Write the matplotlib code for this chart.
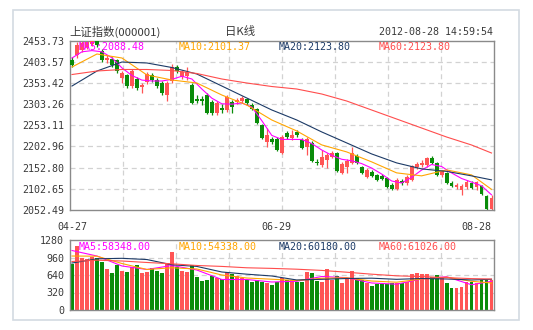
import matplotlib.pyplot as plt
import matplotlib.transforms as mtransforms
import numpy as np
from matplotlib.patches import Rectangle

# ----------------------------------------------------------
# Data (SSE index 000001, daily candles 2012-04-27 .. 2012-08-28)
# ----------------------------------------------------------

opens = [2407.6, 2419.4, 2431.2, 2438.4, 2445.5, 2452.6, 2428.9, 2407.6, 2409.9, 2407.6,
         2365.0, 2372.1, 2346.0, 2362.6, 2343.7, 2355.5, 2372.1, 2360.2, 2353.1, 2324.7,
         2357.9, 2391.0, 2367.3, 2369.7, 2348.4, 2315.3, 2315.3, 2324.7, 2308.2, 2282.1,
         2294.0, 2289.2, 2308.2, 2308.2, 2310.5, 2315.3, 2301.1, 2291.6, 2253.7, 2213.5,
         2220.6, 2220.6, 2187.4, 2234.8, 2223.0, 2237.2, 2218.2, 2201.7, 2211.1, 2166.1,
         2159.0, 2170.9, 2178.0, 2187.4, 2140.1, 2154.3, 2163.8, 2180.3, 2154.3, 2130.6,
         2142.5, 2135.4, 2133.0, 2128.3, 2111.7, 2102.2, 2121.2, 2116.4, 2123.5, 2154.3,
         2159.0, 2159.0, 2175.6, 2163.8, 2135.4, 2140.1, 2116.4, 2107.0, 2099.9, 2107.0,
         2116.4, 2107.0, 2109.3, 2085.7, 2054.9]

closes = [2395.7, 2443.1, 2447.8, 2450.2, 2452.6, 2443.1, 2407.6, 2412.3, 2395.7, 2381.5,
          2376.8, 2346.0, 2381.5, 2341.3, 2348.4, 2374.4, 2360.2, 2346.0, 2329.5, 2353.1,
          2391.0, 2381.5, 2379.2, 2379.2, 2305.8, 2310.5, 2310.5, 2282.1, 2282.1, 2305.8,
          2289.2, 2320.0, 2296.3, 2312.9, 2317.6, 2305.8, 2291.6, 2258.5, 2223.0, 2230.1,
          2213.5, 2194.5, 2225.3, 2225.3, 2230.1, 2230.1, 2199.3, 2220.6, 2168.5, 2163.8,
          2178.0, 2182.7, 2187.4, 2144.8, 2161.4, 2168.5, 2187.4, 2163.8, 2140.1, 2147.2,
          2133.0, 2123.5, 2125.9, 2107.0, 2102.2, 2123.5, 2116.4, 2130.6, 2156.7, 2161.4,
          2163.8, 2175.6, 2163.8, 2135.4, 2144.8, 2116.4, 2109.3, 2111.7, 2109.3, 2118.8,
          2104.6, 2118.8, 2090.4, 2054.9, 2080.9]

highs = [2414.7, 2450.2, 2452.6, 2452.6, 2453.7, 2453.73, 2433.6, 2419.4, 2414.7, 2409.9,
         2381.5, 2374.4, 2386.3, 2367.3, 2353.1, 2379.2, 2376.8, 2365.0, 2357.9, 2357.9,
         2398.1, 2395.7, 2383.9, 2391.0, 2353.1, 2324.7, 2322.4, 2329.5, 2312.9, 2310.5,
         2303.4, 2324.7, 2312.9, 2317.6, 2322.4, 2317.6, 2305.8, 2294.0, 2256.1, 2246.6,
         2225.3, 2225.3, 2230.1, 2239.5, 2241.9, 2241.9, 2223.0, 2225.3, 2215.9, 2173.2,
         2194.5, 2187.4, 2192.2, 2189.8, 2166.1, 2173.2, 2201.7, 2185.1, 2156.7, 2151.9,
         2147.2, 2137.7, 2137.7, 2130.6, 2116.4, 2128.3, 2125.9, 2135.4, 2159.0, 2166.1,
         2170.9, 2178.0, 2180.3, 2166.1, 2147.2, 2142.5, 2121.2, 2116.4, 2114.1, 2123.5,
         2121.2, 2121.2, 2111.7, 2088.0, 2088.0]

lows = [2391.0, 2412.3, 2426.5, 2433.6, 2440.7, 2438.4, 2402.8, 2400.5, 2391.0, 2376.8,
        2353.1, 2341.3, 2341.3, 2336.6, 2329.5, 2350.8, 2355.5, 2341.3, 2324.7, 2310.5,
        2353.1, 2376.8, 2362.6, 2360.2, 2303.4, 2305.8, 2301.1, 2279.8, 2277.4, 2277.4,
        2282.1, 2284.5, 2282.1, 2303.4, 2305.8, 2301.1, 2289.2, 2256.1, 2220.6, 2201.7,
        2208.8, 2192.2, 2185.1, 2220.6, 2218.2, 2225.3, 2196.9, 2182.7, 2166.1, 2159.0,
        2154.3, 2151.9, 2175.6, 2142.5, 2137.7, 2140.1, 2161.4, 2161.4, 2137.7, 2128.3,
        2130.6, 2121.2, 2123.5, 2104.6, 2099.9, 2099.9, 2111.7, 2111.7, 2121.2, 2149.6,
        2154.3, 2154.3, 2161.4, 2133.0, 2130.6, 2114.1, 2107.0, 2102.2, 2088.0, 2102.2,
        2102.2, 2099.9, 2088.0, 2052.5, 2052.5]

volumes = [836, 1170, 957, 933, 975, 945, 884, 750, 671, 823,
           713, 701, 793, 823, 671, 689, 762, 719, 683, 854,
           1067, 793, 713, 689, 823, 610, 530, 549, 622, 591,
           567, 701, 653, 628, 579, 549, 506, 549, 518, 488,
           457, 506, 579, 549, 549, 506, 518, 701, 671, 530,
           518, 750, 549, 628, 500, 579, 713, 579, 549, 500,
           439, 476, 470, 470, 500, 500, 488, 506, 658, 671,
           653, 653, 610, 640, 610, 488, 408, 408, 427, 518,
           518, 488, 549, 561, 549]

date_ticks = [0, 42, 84]
date_labels = ["04-27", "06-29", "08-28"]

price_ticks = [2052.49, 2102.65, 2152.80, 2202.96, 2253.11,
               2303.26, 2353.42, 2403.57, 2453.73]
volume_ticks = [0, 320, 640, 960, 1280]

ma_idx = [0, 5, 10, 15, 20, 25, 30, 35, 40, 45, 50, 55, 60, 65, 70, 75, 80, 84]
ma5_idx = list(range(0, 85, 2))

ma5_price = [2412.3, 2427.0, 2429.8, 2427.0, 2412.8, 2388.9, 2370.9, 2360.0, 2357.9,
             2357.9, 2361.7, 2369.2, 2362.6, 2338.9, 2317.2, 2303.9, 2303.0, 2305.8,
             2296.3, 2264.1, 2229.1, 2219.6, 2219.6, 2219.4, 2209.9, 2194.6, 2182.0,
             2172.6, 2169.0, 2162.4, 2151.8, 2137.7, 2121.2, 2116.4, 2129.7, 2147.0,
             2160.2, 2155.5, 2140.3, 2127.1, 2118.6, 2109.8, 2088.48]
ma10_price = [2391.0, 2421.8, 2412.3, 2372.1, 2360.2, 2353.1, 2324.7, 2301.1, 2265.6,
              2239.6, 2206.6, 2190.0, 2166.4, 2140.4, 2133.3, 2147.4, 2135.6, 2101.37]
ma20_price = [2346.0, 2381.5, 2402.8, 2400.5, 2389.8, 2374.4, 2346.0, 2317.6, 2289.3,
              2265.6, 2237.3, 2211.3, 2185.2, 2164.0, 2149.8, 2143.9, 2133.3, 2123.80]
ma60_price = [2373.2, 2381.5, 2385.1, 2385.1, 2382.7, 2375.6, 2362.6, 2353.1, 2344.8,
              2338.9, 2327.1, 2310.5, 2289.2, 2267.9, 2246.6, 2225.3, 2206.4, 2187.4]

ma5_vol = [1088, 987, 805, 741, 814, 731, 558, 558, 512, 525, 613, 591, 494, 472, 567, 609, 461, 525]
ma10_vol = [987, 984, 850, 741, 772, 750, 640, 585, 563, 539, 580, 589, 530, 508, 567, 600, 525, 494]
ma20_vol = [859, 936, 945, 923, 827, 797, 695, 655, 622, 549, 561, 576, 582, 561, 576, 567, 549, 561]
ma60_vol = [887, 911, 896, 869, 845, 814, 797, 772, 761, 746, 724, 691, 655, 625, 611, 591, 574, 567]

price_labels = ["MA5:2088.48", "MA10:2101.37", "MA20:2123.80", "MA60:2123.80"]
volume_labels = ["MA5:58348.00", "MA10:54338.00", "MA20:60180.00", "MA60:61026.00"]

# ----------------------------------------------------------
# Style
# ----------------------------------------------------------

RED = "#ff5555"
GREEN = "#0a8c0a"
MA_COLORS = ["#ff00ff", "#ffa500", "#1c3a66", "#ff4d4d"]
GRID = "#d2d2d2"
SPINE = "#8a8a8a"
TEXT = "#3a3a3a"
MONO = "DejaVu Sans Mono"
CJK = ["Noto Sans CJK SC", "DejaVu Sans"]

plt.rcParams["font.family"] = [MONO, "Noto Sans CJK SC"]

W, H = 533, 330

fig = plt.figure(figsize=(W / 100, H / 100), dpi=100)

fig.patches.append(
    Rectangle(
        (13 / W, 1 - 320 / H),
        (519 - 13) / W,
        (320 - 10) / H,
        transform=fig.transFigure,
        fill=False,
        edgecolor="#d3dae2",
        linewidth=1.2
    )
)

ax = fig.add_axes([69.5 / W, 1 - 210 / H, 424.5 / W, 169.5 / H])
axv = fig.add_axes([69.5 / W, 1 - 310 / H, 424.5 / W, 70 / H])

x = np.arange(len(closes))
o = np.array(opens)
c = np.array(closes)
colors = [RED if cc >= oo else GREEN for oo, cc in zip(o, c)]

x0, x1 = -0.5, len(closes) - 0.5


def frame(axis):

    for side in axis.spines.values():
        side.set_color(SPINE)
        side.set_linewidth(1)

    for k in range(1, 8):
        axis.axvline(
            x0 + (x1 - x0) * k / 8,
            color=GRID,
            lw=0.9,
            ls=(0, (4, 3)),
            zorder=0
        )

    axis.set_xlim(x0, x1)

    axis.tick_params(
        length=0,
        labelsize=7.2,
        labelcolor=TEXT
    )


# ----------------------------------------------------------
# Candles
# ----------------------------------------------------------

frame(ax)

for y in price_ticks[1:-1]:
    ax.axhline(y, color=GRID, lw=0.9, ls=(0, (4, 3)), zorder=0)

ax.vlines(x, lows, highs, colors=colors, lw=0.9, zorder=2)

ax.bar(
    x,
    np.maximum(np.abs(c - o), 1.5),
    bottom=np.minimum(o, c),
    width=0.78,
    color=colors,
    linewidth=0,
    zorder=3
)

for vals, idx, col in zip(
    [ma5_price, ma10_price, ma20_price, ma60_price],
    [ma5_idx, ma_idx, ma_idx, ma_idx],
    MA_COLORS
):
    ax.plot(idx, vals, color=col, lw=0.8, zorder=4)

ax.set_ylim(price_ticks[0], price_ticks[-1])
ax.set_yticks(price_ticks, ["%.2f" % v for v in price_ticks])
ax.tick_params(axis="y", pad=4)

ax.set_xticks(date_ticks, date_labels)
ax.tick_params(axis="x", pad=9)

xlabels = ax.get_xticklabels()
xlabels[-1].set_ha("right")
xlabels[1].set_transform(
    xlabels[1].get_transform()
    + mtransforms.ScaledTranslation(-5 / 100, 0, fig.dpi_scale_trans)
)

for k, (label, col) in enumerate(zip(price_labels, MA_COLORS)):
    ax.text(
        (79 + 100 * k - 69.5) / 424.5,
        0.963,
        label,
        transform=ax.transAxes,
        color=col,
        fontsize=7.2,
        va="center",
        zorder=6
    )

# ----------------------------------------------------------
# Volume
# ----------------------------------------------------------

frame(axv)

for y in volume_ticks[1:-1]:
    axv.axhline(y, color=GRID, lw=0.9, ls=(0, (4, 3)), zorder=0)

axv.bar(x, volumes, width=0.78, color=colors, linewidth=0, zorder=2)

for vals, col in zip([ma5_vol, ma10_vol, ma20_vol, ma60_vol], MA_COLORS):
    axv.plot(ma_idx, vals, color=col, lw=0.8, zorder=4)

axv.set_ylim(volume_ticks[0], volume_ticks[-1])
axv.set_yticks(volume_ticks, [str(v) for v in volume_ticks])
axv.tick_params(axis="y", pad=4)
axv.set_xticks([])

for k, (label, col) in enumerate(zip(volume_labels, MA_COLORS)):
    axv.text(
        (79 + 100 * k - 69.5) / 424.5,
        0.895,
        label,
        transform=axv.transAxes,
        color=col,
        fontsize=7.2,
        va="center",
        zorder=6
    )

# ----------------------------------------------------------
# Header
# ----------------------------------------------------------

fig.text(69.5 / W, 1 - 31.5 / H, "上证指数(000001)", family=CJK,
         fontsize=8.2, color=TEXT, va="center", ha="left")

fig.text(240 / W, 1 - 31.5 / H, "日K线", family=CJK,
         fontsize=8.2, color=TEXT, va="center", ha="center")

fig.text(492.7 / W, 1 - 32 / H, "2012-08-28 14:59:54", family=MONO,
         fontsize=7.2, color=TEXT, va="center", ha="right")

fig.savefig("out.png", dpi=100)

plt.close()
